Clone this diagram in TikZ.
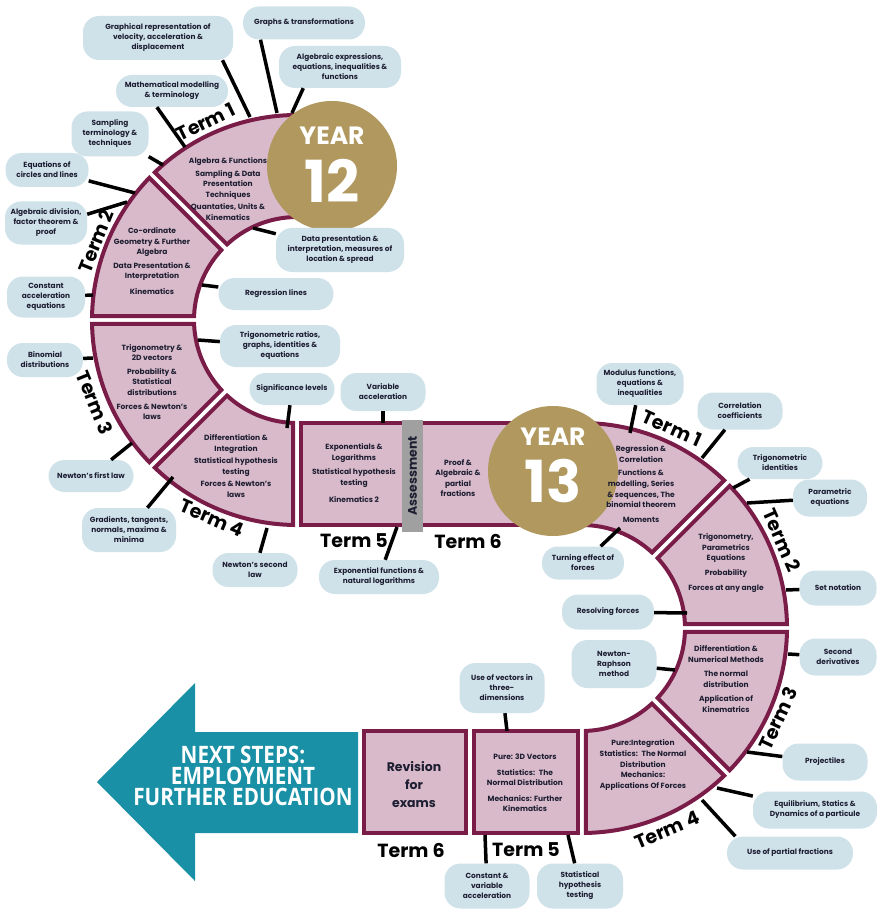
\documentclass[tikz,border=0pt]{standalone}
\usepackage{fontspec}
\setmainfont{Poppins}
\newfontfamily\arrowfont[FakeStretch=0.86]{Open Sans}
\usetikzlibrary{arrows.meta}
\definecolor{plum}{RGB}{122,28,72}
\definecolor{pinkband}{RGB}{216,186,202}
\definecolor{gold}{RGB}{176,152,94}
\definecolor{teal}{RGB}{26,144,166}
\definecolor{bubbleblue}{RGB}{207,226,234}
\definecolor{ink}{RGB}{30,30,50}
\definecolor{greybar}{RGB}{160,160,160}
\tikzset{
  termbox/.style={fill=pinkband, draw=plum, line width=4pt},
  bubble/.style={fill=bubbleblue, rounded corners=16pt, align=center, inner sep=1pt,
    text=ink, font=\fontsize{7.4}{10}\selectfont\bfseries},
  bandtext/.style={align=center, text=ink, font=\fontsize{7.5}{10.6}\selectfont\bfseries},
  termlabel/.style={text=black, font=\fontsize{19}{19}\selectfont\bfseries},
  yearball/.style={circle, fill=gold, minimum size=130pt}
}
\begin{document}
\begin{tikzpicture}[x=1pt,y=1pt]
\fill[white] (0,0) rectangle (877,-909);
\useasboundingbox (0,0) rectangle (877,-909);

% year 12 bands
\begin{scope}[shift={(297,-320)}]
    \draw[termbox] (72:205pt) arc[start angle=72, end angle=133.9, radius=205pt] -- (132.8:103pt) arc[start angle=132.8, end angle=72, radius=103pt] -- cycle;
    \draw[termbox] (136.1:205pt) arc[start angle=136.1, end angle=178.9, radius=205pt] -- (177.8:103pt) arc[start angle=177.8, end angle=137.2, radius=103pt] -- cycle;
    \draw[termbox] (181.1:205pt) arc[start angle=181.1, end angle=223.9, radius=205pt] -- (222.8:103pt) arc[start angle=222.8, end angle=182.2, radius=103pt] -- cycle;
    \draw[termbox] (226.1:205pt) arc[start angle=226.1, end angle=268.9, radius=205pt] -- (267.8:103pt) arc[start angle=267.8, end angle=227.2, radius=103pt] -- cycle;
\end{scope}
\draw[termbox] (301,-423) rectangle (414,-525);
\draw[termbox] (414,-423) rectangle (546,-525);

% year 13 bands
\begin{scope}[shift={(582,-628)}]
    \draw[termbox] (-38,205) -- (0,205) arc[start angle=90, end angle=46.1, radius=205pt] -- (47.2:103pt) arc[start angle=47.2, end angle=90, radius=103pt] -- (-38,103) -- cycle;
    \draw[termbox] (43.9:205pt) arc[start angle=43.9, end angle=1.1, radius=205pt] -- (2.2:103pt) arc[start angle=2.2, end angle=42.8, radius=103pt] -- cycle;
    \draw[termbox] (-1.1:205pt) arc[start angle=-1.1, end angle=-43.9, radius=205pt] -- (-42.8:103pt) arc[start angle=-42.8, end angle=-2.2, radius=103pt] -- cycle;
    \draw[termbox] (-46.1:205pt) arc[start angle=-46.1, end angle=-88.9, radius=205pt] -- (-87.8:103pt) arc[start angle=-87.8, end angle=-47.2, radius=103pt] -- cycle;
\end{scope}
\draw[termbox] (474,-731) rectangle (578,-833);
\draw[termbox] (364,-731) rectangle (466,-833);

\fill[teal] (97,-782) -- (195,-683) -- (195,-732) -- (358,-732) -- (358,-833) -- (195,-833) -- (195,-881) -- cycle;

\node[fill=greybar, minimum width=112pt, minimum height=21pt, rotate=90,
      text=ink, font=\fontsize{12.5}{12.5}\selectfont\bfseries] (Z) at (412.5,-476) {Assessment};

\node[yearball] (Y) at (332,-166) {};
\node[yearball] (y) at (553,-471) {};
\node[text=white, font=\fontsize{25}{25}\selectfont\bfseries] at ([yshift=30pt]Y.center) {YEAR};
\node[text=white, font=\fontsize{58}{58}\selectfont\bfseries] at ([yshift=-15pt]Y.center) {12};
\node[text=white, font=\fontsize{25}{25}\selectfont\bfseries] at ([yshift=34pt]y.center) {YEAR};
\node[text=white, font=\fontsize{58}{58}\selectfont\bfseries] at ([yshift=-10pt]y.center) {13};

\begin{scope}[every node/.style={bubble}]
    \node[minimum width=150pt, minimum height=44pt] (A) at (158,-38) {Graphical representation of\\velocity, acceleration \&\\displacement};
    \node[minimum width=122pt, minimum height=33pt] (B) at (304,-23) {Graphs \& transformations};
    \node[minimum width=122pt, minimum height=42pt] (C) at (340,-67) {Algebraic expressions,\\equations,  inequalities \&\\functions};
    \node[minimum width=112pt, minimum height=32pt] (D) at (172,-91) {Mathematical modelling\\\& terminology};
    \node[minimum width=77pt, minimum height=45pt] (E) at (110,-134) {Sampling\\terminology \&\\techniques};
    \node[minimum width=83pt, minimum height=34pt] (F) at (47,-170) {Equations of\\circles and lines};
    \node[minimum width=82pt, minimum height=43pt] (G) at (46,-223) {Algebraic division,\\factor theorem \&\\proof};
    \node[minimum width=78pt, minimum height=41pt] (H) at (46,-297) {Constant\\acceleration\\equations};
    \node[minimum width=76pt, minimum height=34pt] (I) at (45,-360) {Binomial\\distributions};
    \node[minimum width=85pt, minimum height=32pt] (J) at (91,-476) {Newton’s first law};
    \node[minimum width=94pt, minimum height=44pt] (K) at (129,-530) {Gradients, tangents,\\normals, maxima \&\\minima};
    \node[minimum width=85pt, minimum height=34pt] (L) at (255,-570) {Newton’s second\\law};
    \node[minimum width=128pt, minimum height=44pt] (M) at (340,-250) {Data presentation \&\\interpretation, measures of\\location \& spread};
    \node[minimum width=115pt, minimum height=32pt] (N) at (276,-294) {Regression lines};
    \node[minimum width=120pt, minimum height=42pt] (O) at (280,-346) {Trigonometric ratios,\\graphs, identities \&\\equations};
    \node[minimum width=85pt, minimum height=32pt] (P) at (292,-389) {Significance levels};
    \node[minimum width=85pt, minimum height=38pt] (Q) at (383,-392) {Variable\\acceleration};
    \node[minimum width=120pt, minimum height=34pt] (R) at (379,-577) {Exponential functions \&\\natural logarithms};
    \node[minimum width=82pt, minimum height=33pt] (S) at (583,-563) {Turning effect of\\forces};

    \node[minimum width=87pt, minimum height=42pt] (a) at (640,-384) {Modulus functions,\\equations \&\\inequalities};
    \node[minimum width=85pt, minimum height=37pt] (b) at (740,-411) {Correlation\\coefficients};
    \node[minimum width=85pt, minimum height=32pt] (c) at (780,-463) {Trigonometric\\identities};
    \node[minimum width=74pt, minimum height=37pt] (d) at (830,-498) {Parametric\\equations};
    \node[minimum width=77pt, minimum height=35pt] (e) at (838,-588) {Set notation};
    \node[minimum width=92pt, minimum height=35pt] (f) at (608,-612) {Resolving forces};
    \node[minimum width=85pt, minimum height=48pt] (g) at (614,-664) {Newton-\\Raphson\\method};
    \node[minimum width=77pt, minimum height=37pt] (h) at (838,-657) {Second\\derivatives};
    \node[minimum width=85pt, minimum height=37pt] (i) at (825,-762) {Projectiles};
    \node[minimum width=124pt, minimum height=37pt] (j) at (815,-810) {Equilibrium, Statics \&\\Dynamics of a particule};
    \node[minimum width=126pt, minimum height=33pt] (k) at (790,-853) {Use of partial fractions};
    \node[minimum width=85pt, minimum height=50pt] (l) at (502,-688) {Use of vectors in\\three-\\dimensions};
    \node[minimum width=85pt, minimum height=45pt] (m) at (487,-886) {Constant \&\\variable\\acceleration};
    \node[minimum width=86pt, minimum height=45pt] (n) at (580,-886) {Statistical\\hypothesis\\testing};
\end{scope}

\coordinate (A0) at (250,-117); \coordinate (B0) at (277,-113); \coordinate (C0) at (292,-113);
\coordinate (D0) at (185,-147); \coordinate (E0) at (163,-165); \coordinate (F0) at (135,-193);
\coordinate (G0) at (127,-202); \coordinate (H0) at (93,-295);  \coordinate (I0) at (93,-358);
\coordinate (J0) at (132,-443); \coordinate (K0) at (173,-477); \coordinate (L0) at (267,-528);
\coordinate (M0) at (253,-228); \coordinate (N0) at (202,-285); \coordinate (O0) at (198,-340);
\coordinate (P0) at (287,-428); \coordinate (Q0) at (383,-423); \coordinate (R0) at (397,-527);
\coordinate (S0) at (620,-528);
\coordinate (a0) at (630,-433); \coordinate (b0) at (702,-458); \coordinate (c0) at (733,-488);
\coordinate (d0) at (747,-503); \coordinate (e0) at (786,-590); \coordinate (f0) at (687,-613);
\coordinate (g0) at (675,-670); \coordinate (h0) at (788,-654); \coordinate (i0) at (747,-752);
\coordinate (j0) at (717,-788); \coordinate (k0) at (702,-800); \coordinate (l0) at (507,-731);
\coordinate (m0) at (485,-835); \coordinate (n0) at (568,-835);

\begin{scope}[line width=3.5pt]
    \path [-] (A.-19) edge (A0);
    \path [-] (B.201) edge (B0);
    \path [-] (C.210) edge (C0);
    \path [-] (D.227) edge (D0);
    \path [-] (E) edge (E0);
    \path [-] (F) edge (F0);
    \path [-] (G.12) edge (G0);
    \path [-] (H) edge (H0);
    \path [-] (I) edge (I0);
    \path [-] (J) edge (J0);
    \path [-] (K) edge (K0);
    \path [-] (L) edge (L0);
    \path [-] (M) edge (M0);
    \path [-] (N) edge (N0);
    \path [-] (O) edge (O0);
    \path [-] (P) edge (P0);
    \path [-] (Q) edge (Q0);
    \path [-] (R) edge (R0);
    \path [-] (S) edge (S0);

    \path [-] (a) edge (a0);
    \path [-] (b) edge (b0);
    \path [-] (c) edge (c0);
    \path [-] (d) edge (d0);
    \path [-] (e) edge (e0);
    \path [-] (f) edge (f0);
    \path [-] (g) edge (g0);
    \path [-] (h) edge (h0);
    \path [-] (i) edge (i0);
    \path [-] (j) edge (j0);
    \path [-] (k.163) edge (k0);
    \path [-] (l) edge (l0);
    \path [-] (m) edge (m0);
    \path [-] (n) edge (n0);
\end{scope}

\begin{scope}[every node/.style={bandtext}]
    \node (T1) at (228,-189) {Algebra \& Functions\\[2pt]Sampling \& Data\\Presentation\\Techniques\\[2pt]Quantaties, Units \&\\Kinematics};
    \node (T2) at (152,-261) {Co-ordinate\\Geometry \& Further\\Algebra\\[3pt]Data Presentation \&\\Interpretation\\[5pt]Kinematics};
    \node (T3) at (152,-382) {Trigonometry \&\\2D vectors\\[3pt]Probability \&\\Statistical\\distributions\\[3pt]Forces \& Newton’s\\laws};
    \node (T4) at (236,-466) {Differentiation \&\\Integration\\[2pt]Statistical hypothesis\\testing\\[2pt]Forces \& Newton’s\\laws};
    \node (T5) at (354,-473) {Exponentials \&\\Logarithms\\[4pt]Statistical hypothesis\\testing\\[6pt]Kinematics 2};
    \node (T6) at (458,-478) {Proof \&\\Algebraic \&\\partial\\fractions};
    \node (t1) at (641,-484) {Regression \&\\Correlation\\[3pt]Functions \&\\modelling, Series\\\& sequences, The\\binomial theorem\\[4pt]Moments};
    \node (t2) at (726,-563) {Trigonometry,\\Parametrics\\Equations\\[4pt]Probability\\[4pt]Forces at any angle};
    \node (t3) at (726,-679) {Differentiation \&\\Numerical Methods\\[4pt]The normal\\distribution\\[4pt]Application of\\Kinematrics};
    \node (t4) at (643,-765) {Pure:Integration\\Statistics:~ The Normal\\Distribution\\Mechanics:\\Applications Of Forces};
    \node (t5) at (525,-783) {Pure: 3D Vectors\\[5pt]Statistics:~ The\\Normal Distribution\\[5pt]Mechanics: Further\\Kinematics};
    \node[font=\fontsize{12.5}{18}\selectfont\bfseries] (t6) at (414,-785) {Revision\\for\\exams};
\end{scope}

\node[text=white, align=center, font=\fontsize{24}{21}\selectfont\arrowfont\bfseries] (X) at (243,-776) {NEXT STEPS:\\EMPLOYMENT\\FURTHER EDUCATION};

\begin{scope}[every node/.style={termlabel}]
    \node[rotate=26] at (206,-122) {Term 1};
    \node[rotate=68] at (96,-241) {Term 2};
    \node[rotate=-68] at (95,-403) {Term 3};
    \node[rotate=-23] at (212,-518) {Term 4};
    \node at (354,-541) {Term 5};
    \node at (468,-541) {Term 6};
    \node[rotate=-24] at (672,-428) {Term 1};
    \node[rotate=-66] at (782,-540) {Term 2};
    \node[rotate=65] at (778,-718) {Term 3};
    \node[rotate=23] at (667,-830) {Term 4};
    \node at (526,-850) {Term 5};
    \node at (411,-850) {Term 6};
\end{scope}
\end{tikzpicture}
\end{document}
